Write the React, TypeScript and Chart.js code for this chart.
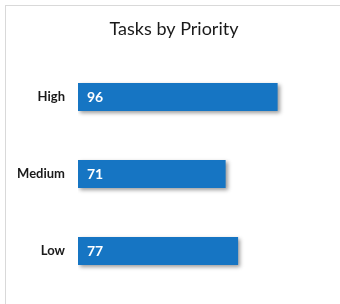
import React, { useEffect, useRef } from "react";
import { Chart, registerables } from "chart.js";

Chart.register(...registerables);

const categories = ["High", "Medium", "Low"];
const taskCounts = [96, 71, 77];
const chartTitle = "Tasks by Priority";
const axisMax = 126;
const barColor = "#1675c3";

const FONT = "Lato, 'Open Sans', sans-serif";

const barShadow = {
  id: "barShadow",
  beforeDatasetsDraw(chart: any) {
    const ctx = chart.ctx;
    ctx.save();
    ctx.shadowColor = "rgba(0,0,0,0.4)";
    ctx.shadowBlur = 4;
    ctx.shadowOffsetX = 2;
    ctx.shadowOffsetY = 2;
  },
  afterDatasetsDraw(chart: any) {
    chart.ctx.restore();
  },
};

const valueLabels = {
  id: "valueLabels",
  afterDatasetsDraw(chart: any) {
    const ctx = chart.ctx;
    const meta = chart.getDatasetMeta(0);
    ctx.save();
    ctx.fillStyle = "#ffffff";
    ctx.font = `bold 14px ${FONT}`;
    ctx.textAlign = "left";
    ctx.textBaseline = "middle";
    meta.data.forEach((bar: any, i: number) => {
      ctx.fillText(String(chart.data.datasets[0].data[i]), bar.base + 9, bar.y + 0.5);
    });
    ctx.restore();
  },
};

export default function App() {
  const ref = useRef<HTMLCanvasElement | null>(null);
  useEffect(() => {
    if (!ref.current) return;
    const chart = new Chart(ref.current, {
      type: "bar",
      data: {
        labels: categories,
        datasets: [
          {
            data: taskCounts,
            backgroundColor: barColor,
            borderWidth: 0,
            barPercentage: 0.364,
            categoryPercentage: 1,
          },
        ],
      },
      options: {
        indexAxis: "y",
        responsive: false,
        animation: false,
        layout: { padding: { top: 0, right: 0, bottom: 14.5, left: 8 } },
        plugins: {
          legend: { display: false },
          tooltip: { enabled: false },
          title: {
            display: true,
            text: chartTitle,
            color: "#1a1a1a",
            font: { family: FONT, size: 18, weight: "normal", lineHeight: 1.2 },
            padding: { top: 18.2, bottom: 18.7 },
          },
        },
        scales: {
          x: { display: false, min: 0, max: axisMax },
          y: {
            grid: { display: false, drawTicks: false },
            border: { display: false },
            ticks: {
              color: "#1a1a1a",
              padding: 13,
              font: { family: FONT, size: 13, weight: "bold" },
            },
            afterFit(scale: any) {
              scale.width = 70;
              scale.paddingTop = 0;
              scale.paddingBottom = 0;
            },
          },
        },
      },
      plugins: [barShadow, valueLabels],
    });
    return () => chart.destroy();
  }, []);
  return (
    <div style={{ position: "absolute", left: 0, top: 0, width: 340, height: 304, background: "#fff", overflow: "hidden" }}>
      <div
        style={{
          position: "absolute",
          left: 5,
          top: 5,
          right: 0,
          bottom: 0,
          borderTop: "1px solid #d9d9d9",
          borderLeft: "1px solid #d9d9d9",
        }}
      />
      <canvas ref={ref} width={340} height={304} style={{ position: "absolute", left: 0, top: 0 }} />
    </div>
  );
}
